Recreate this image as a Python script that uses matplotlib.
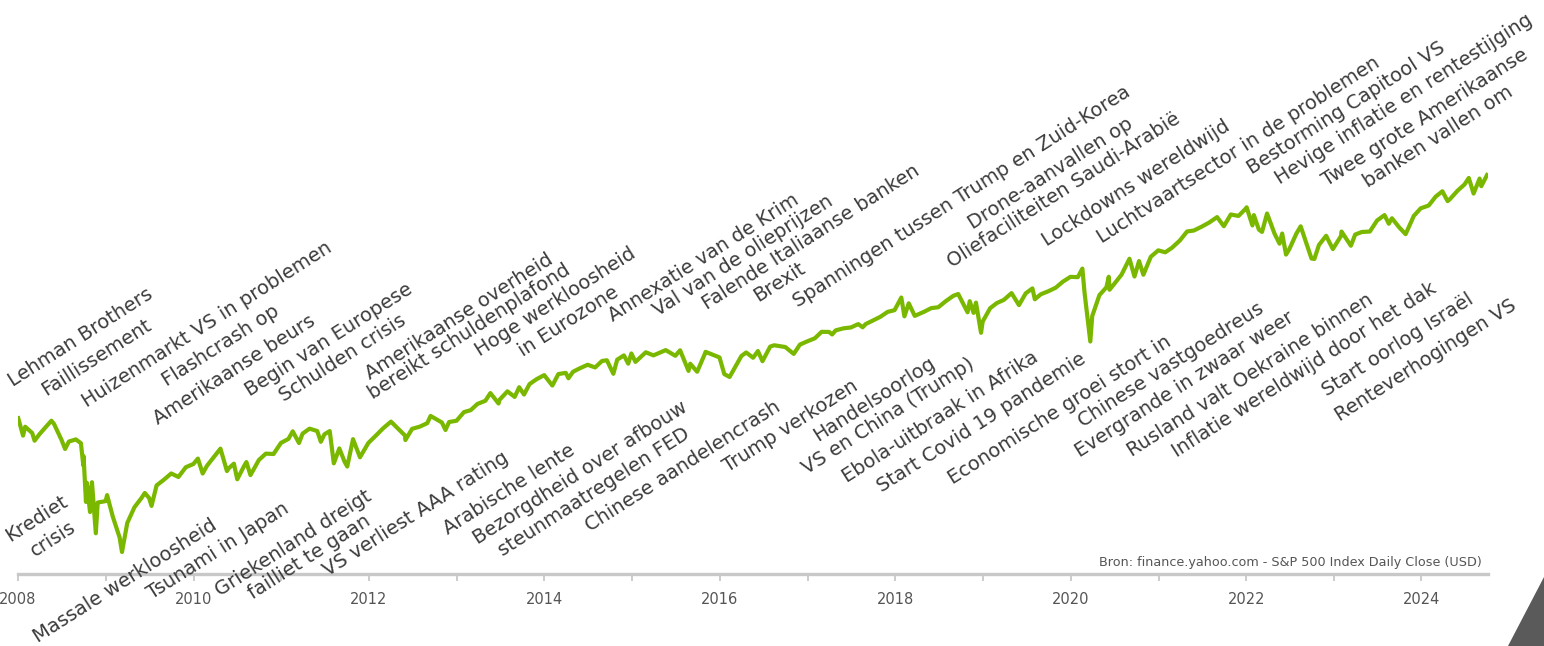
import matplotlib
matplotlib.use("Agg")
import matplotlib.pyplot as plt
from matplotlib.patches import Polygon
from matplotlib.ticker import NullLocator
import pandas as pd

# ---------------- data: S&P 500 closes ----------------
dates = [
    "2008-01-02", "2008-01-22", "2008-01-31", "2008-02-29", "2008-03-10", "2008-03-31",
    "2008-04-30", "2008-05-19", "2008-05-30", "2008-06-30", "2008-07-15", "2008-07-31",
    "2008-08-29", "2008-09-19", "2008-09-29", "2008-09-30", "2008-10-10", "2008-10-13",
    "2008-10-27", "2008-10-31", "2008-11-04", "2008-11-20", "2008-11-28", "2008-12-31",
    "2009-01-06", "2009-01-30", "2009-02-27", "2009-03-09", "2009-03-31", "2009-04-30",
    "2009-05-29", "2009-06-12", "2009-06-30", "2009-07-10", "2009-07-31", "2009-08-31",
    "2009-09-30", "2009-10-30", "2009-11-30", "2009-12-31",
    "2010-01-19", "2010-02-08", "2010-02-26", "2010-03-31", "2010-04-23", "2010-05-20",
    "2010-05-28", "2010-06-18", "2010-07-02", "2010-07-30", "2010-08-09", "2010-08-26",
    "2010-09-30", "2010-10-29", "2010-11-30", "2010-12-31",
    "2011-01-31", "2011-02-18", "2011-03-16", "2011-03-31", "2011-04-29", "2011-05-31",
    "2011-06-15", "2011-06-30", "2011-07-22", "2011-08-08", "2011-08-31", "2011-09-22",
    "2011-10-03", "2011-10-27", "2011-11-25", "2011-12-30",
    "2012-01-31", "2012-02-29", "2012-04-02", "2012-05-31", "2012-06-01", "2012-06-29",
    "2012-07-31", "2012-08-31", "2012-09-14", "2012-10-31", "2012-11-15", "2012-11-30",
    "2012-12-31",
    "2013-01-31", "2013-02-28", "2013-03-28", "2013-04-30", "2013-05-21", "2013-06-24",
    "2013-06-28", "2013-07-31", "2013-08-30", "2013-09-18", "2013-10-08", "2013-10-31",
    "2013-11-29", "2013-12-31",
    "2014-02-03", "2014-02-28", "2014-03-31", "2014-04-11", "2014-04-30", "2014-05-30",
    "2014-06-30", "2014-07-31", "2014-08-29", "2014-09-18", "2014-10-15", "2014-10-31",
    "2014-11-28", "2014-12-16", "2014-12-29",
    "2015-01-15", "2015-02-27", "2015-03-31", "2015-05-21", "2015-06-30", "2015-07-20",
    "2015-08-24", "2015-08-31", "2015-09-29", "2015-10-30", "2015-11-03", "2015-12-31",
    "2016-01-20", "2016-02-11", "2016-03-31", "2016-04-20", "2016-05-19", "2016-06-08",
    "2016-06-27", "2016-07-29", "2016-08-15", "2016-09-30", "2016-11-04", "2016-11-30",
    "2016-12-30",
    "2017-01-31", "2017-02-28", "2017-03-31", "2017-04-13", "2017-04-28", "2017-05-31",
    "2017-06-30", "2017-07-31", "2017-08-18", "2017-08-31", "2017-09-29", "2017-10-31",
    "2017-11-30", "2017-12-29",
    "2018-01-26", "2018-02-08", "2018-02-26", "2018-03-23", "2018-04-30", "2018-05-31",
    "2018-06-29", "2018-07-31", "2018-08-31", "2018-09-20", "2018-10-29", "2018-11-07",
    "2018-11-23", "2018-12-03", "2018-12-24", "2018-12-31",
    "2019-01-31", "2019-02-28", "2019-03-29", "2019-04-30", "2019-05-31", "2019-06-28",
    "2019-07-26", "2019-08-05", "2019-08-30", "2019-09-30", "2019-10-31", "2019-11-29",
    "2019-12-31",
    "2020-01-31", "2020-02-19", "2020-02-28", "2020-03-23", "2020-03-31", "2020-04-30",
    "2020-05-29", "2020-06-08", "2020-06-11", "2020-06-30", "2020-07-31", "2020-09-02",
    "2020-09-23", "2020-10-12", "2020-10-30", "2020-11-30", "2020-12-31",
    "2021-01-29", "2021-02-26", "2021-03-31", "2021-04-30", "2021-05-28", "2021-06-30",
    "2021-07-30", "2021-09-02", "2021-09-30", "2021-10-29", "2021-11-30", "2021-12-31",
    "2022-01-03", "2022-01-27", "2022-02-02", "2022-02-23", "2022-03-08", "2022-03-29",
    "2022-04-29", "2022-05-20", "2022-05-31", "2022-06-16", "2022-06-30", "2022-07-29",
    "2022-08-16", "2022-09-30", "2022-10-12", "2022-10-31", "2022-11-30", "2022-12-28",
    "2023-01-31", "2023-02-02", "2023-03-13", "2023-03-31", "2023-04-28", "2023-05-31",
    "2023-06-30", "2023-07-31", "2023-08-18", "2023-08-31", "2023-09-29", "2023-10-27",
    "2023-11-30", "2023-12-29",
    "2024-01-31", "2024-02-29", "2024-03-28", "2024-04-19", "2024-04-30", "2024-05-31",
    "2024-06-28", "2024-07-16", "2024-08-05", "2024-08-30", "2024-09-06", "2024-09-30",
]
closes = [
    1447.16, 1310.50, 1378.55, 1330.63, 1273.37, 1322.70,
    1385.59, 1426.63, 1400.38, 1280.00, 1214.91, 1267.38,
    1282.83, 1255.08, 1106.42, 1166.36, 899.22, 1003.35,
    848.92, 968.75, 1005.75, 752.44, 896.24, 903.25,
    934.70, 825.88, 735.09, 676.53, 797.87, 872.81,
    919.14, 946.21, 919.32, 879.13, 987.48, 1020.62,
    1057.08, 1036.19, 1095.63, 1115.10,
    1150.23, 1056.74, 1104.49, 1169.43, 1217.28, 1071.59,
    1089.41, 1117.51, 1022.58, 1101.60, 1127.79, 1047.22,
    1141.20, 1183.26, 1180.55, 1257.64,
    1286.12, 1343.01, 1256.88, 1325.83, 1363.61, 1345.20,
    1265.42, 1320.64, 1345.02, 1119.46, 1218.89, 1129.56,
    1099.23, 1284.59, 1158.67, 1257.60,
    1312.41, 1365.68, 1419.04, 1310.33, 1278.04, 1362.16,
    1379.32, 1406.58, 1465.77, 1412.16, 1353.33, 1416.18,
    1426.19,
    1498.11, 1514.68, 1569.19, 1597.57, 1669.16, 1573.09,
    1606.28, 1685.73, 1632.97, 1725.52, 1655.45, 1756.54,
    1805.81, 1848.36,
    1741.89, 1859.45, 1872.34, 1815.69, 1883.95, 1923.57,
    1960.23, 1930.67, 2003.37, 2011.36, 1862.49, 2018.05,
    2067.56, 1972.74, 2090.57,
    1992.67, 2104.50, 2067.89, 2130.82, 2063.11, 2128.28,
    1893.21, 1972.18, 1884.09, 2079.36, 2109.79, 2043.94,
    1859.33, 1829.08, 2059.74, 2102.40, 2040.04, 2119.12,
    2000.54, 2173.60, 2190.15, 2168.27, 2085.18, 2198.81,
    2238.83,
    2278.87, 2363.64, 2362.72, 2328.95, 2384.20, 2411.80,
    2423.41, 2470.30, 2425.55, 2471.65, 2519.36, 2575.26,
    2647.58, 2673.61,
    2872.87, 2581.00, 2779.60, 2588.26, 2648.05, 2705.27,
    2718.37, 2816.29, 2901.52, 2930.75, 2641.25, 2813.89,
    2632.56, 2790.37, 2351.10, 2506.85,
    2704.10, 2784.49, 2834.40, 2945.83, 2752.06, 2941.76,
    3025.86, 2844.74, 2926.46, 2976.74, 3037.56, 3140.98,
    3230.78,
    3225.52, 3386.15, 2954.22, 2237.40, 2584.59, 2912.43,
    3044.31, 3232.39, 3002.10, 3100.29, 3271.12, 3580.84,
    3236.92, 3534.22, 3269.96, 3621.63, 3756.07,
    3714.24, 3811.15, 3972.89, 4181.17, 4204.11, 4297.50,
    4395.26, 4536.95, 4307.54, 4605.38, 4567.00, 4766.18,
    4796.56, 4326.51, 4589.38, 4225.50, 4170.70, 4631.60,
    4131.93, 3901.36, 4132.15, 3666.77, 3785.38, 4130.29,
    4305.20, 3585.62, 3577.03, 3871.98, 4080.11, 3783.22,
    4076.60, 4179.76, 3855.76, 4109.31, 4169.48, 4179.83,
    4450.38, 4588.96, 4369.71, 4507.66, 4288.05, 4117.37,
    4567.80, 4769.83,
    4845.65, 5096.27, 5254.35, 4967.23, 5035.69, 5277.51,
    5460.48, 5667.20, 5186.33, 5648.40, 5408.42, 5762.48,
]
tick_years = list(range(2008, 2025))
tick_labels = [str(y) if y % 2 == 0 else "" for y in tick_years]

# event labels (text only)
events_above = [
    "Lehman Brothers", "Faillissement", "Huizenmarkt VS in problemen", "Flashcrash op",
    "Amerikaanse beurs", "Begin van Europese", "Schulden crisis", "Amerikaanse overheid",
    "bereikt schuldenplafond", "Hoge werkloosheid", "in Eurozone", "Annexatie van de Krim",
    "Val van de olieprijzen", "Falende Italiaanse banken", "Brexit",
    "Spanningen tussen Trump en Zuid-Korea", "Drone-aanvallen op",
    "Oliefaciliteiten Saudi-Arabië", "Lockdowns wereldwijd",
    "Luchtvaartsector in de problemen", "Bestorming Capitool VS",
    "Hevige inflatie en rentestijging", "Twee grote Amerikaanse", "banken vallen om",
]
events_below = [
    "Krediet", "crisis", "Massale werkloosheid", "Tsunami in Japan", "Griekenland dreigt",
    "failliet te gaan", "VS verliest AAA rating", "Arabische lente", "Bezorgdheid over afbouw",
    "steunmaatregelen FED", "Chinese aandelencrash", "Trump verkozen", "Handelsoorlog",
    "VS en China (Trump)", "Ebola-uitbraak in Afrika", "Start Covid 19 pandemie",
    "Economische groei stort in", "Chinese vastgoedreus", "Evergrande in zwaar weer",
    "Rusland valt Oekraine binnen", "Inflatie wereldwijd door het dak", "Start oorlog Israël",
    "Renteverhogingen VS",
]

# layout (pixel anchors = start of each baseline)
pos_above = [
    (13, 387), (46, 396), (87, 408), (167, 387), (158, 425), (250, 397), (284, 402),
    (370, 380), (373, 400), (480, 357), (523, 357), (613, 322), (658, 317), (707, 310),
    (758, 302), (798, 308), (973, 230), (952, 268), (1047, 247), (1102, 244),
    (1252, 175), (1280, 185), (1327, 187), (1368, 188),
]
pos_below = [
    (10, 542), (35, 557), (38, 643), (152, 600), (220, 597), (253, 600), (328, 577),
    (448, 535), (478, 545), (503, 557), (590, 532), (728, 473), (818, 442), (807, 475),
    (847, 483), (882, 493), (953, 485), (1083, 428), (1080, 458), (1132, 457),
    (1177, 458), (1327, 397), (1340, 422),
]

# ---------------- figure ----------------
W, H = 1544, 646
plt.rcParams['font.family'] = ['DejaVu Sans']
fig = plt.figure(figsize=(W / 100, H / 100), dpi=100)
fig.patch.set_facecolor('white')

ax_left, ax_right, ax_bottom_px = 18, 1488, 574
ax = fig.add_axes([ax_left / W, (H - ax_bottom_px) / H, (ax_right - ax_left) / W, ax_bottom_px / H])
ax.set_facecolor('none')

x = pd.to_datetime(dates)
ax.plot(x, closes, color='#7ab800', lw=3.0, solid_joinstyle='round', zorder=3)
ax.set_yscale('log')
ax.set_ylim(597, 15580)
ax.set_xlim(pd.Timestamp('2008-01-01'), pd.Timestamp('2024-10-04'))
ax.yaxis.set_major_locator(NullLocator())
ax.yaxis.set_minor_locator(NullLocator())

ax.set_xticks([pd.Timestamp(f'{y}-01-01') for y in tick_years])
ax.set_xticklabels(tick_labels)
ax.xaxis.set_minor_locator(NullLocator())
ax.tick_params(axis='x', direction='out', length=5, width=1.2, color='#c4c4c4',
               labelcolor='#555555', labelsize=10.5, pad=8)
ax.tick_params(axis='y', left=False, labelleft=False)
for s in ['left', 'right', 'top']:
    ax.spines[s].set_visible(False)
ax.spines['bottom'].set_color('#c8c8c8')
ax.spines['bottom'].set_linewidth(2.4)

TXT = '#3c3c3c'
ANG = 32.5
FS = 14.0
for t, (px, py) in zip(events_above + events_below, pos_above + pos_below):
    fig.text(px / W, 1 - py / H, t, rotation=ANG, rotation_mode='anchor',
             ha='left', va='baseline', fontsize=FS, color=TXT)

fig.text(1482 / W, 1 - 566 / H, 'Bron: finance.yahoo.com - S&P 500 Index Daily Close (USD)',
         ha='right', va='baseline', fontsize=9.2, color='#555555')

tri = Polygon([(1508 / W, 0), (1.0, 1 - 577 / H), (1.0, 0)], closed=True,
              transform=fig.transFigure, facecolor='#5a5a5a', edgecolor='none')
fig.patches.append(tri)

fig.savefig('out.png', dpi=100, facecolor='white')
